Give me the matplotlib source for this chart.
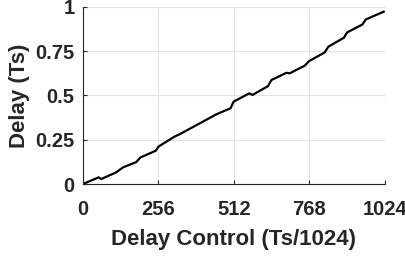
import matplotlib
matplotlib.use('Agg')
import matplotlib.pyplot as plt

control = [0, 54, 62, 113, 136, 181, 195, 247, 257, 311, 328, 453, 501, 511,
           564, 575, 628, 639, 690, 701, 752, 767, 820, 832, 885, 896, 948,
           959, 1020]
delay = [0.0, 0.038, 0.028, 0.066, 0.094, 0.124, 0.150, 0.188, 0.212, 0.268,
         0.281, 0.394, 0.428, 0.465, 0.512, 0.503, 0.553, 0.587, 0.628, 0.625,
         0.668, 0.694, 0.743, 0.775, 0.826, 0.856, 0.901, 0.929, 0.973]

x_ticks = [0, 256, 512, 768, 1024]
y_ticks = [0, 0.25, 0.5, 0.75, 1]
y_labels = ['0', '0.25', '0.5', '0.75', '1']

plt.rcParams['font.family'] = ['Liberation Sans', 'DejaVu Sans']
plt.rcParams['font.weight'] = 'bold'

fig = plt.figure(figsize=(4.06, 2.56), dpi=100)
ax = fig.add_axes([0.204, 0.281, 0.744, 0.692])

ax.plot(control, delay, color='black', linewidth=1.6)

ax.set_xlim(0, 1024)
ax.set_ylim(0, 1)
ax.set_xticks(x_ticks)
ax.set_yticks(y_ticks)
ax.set_yticklabels(y_labels)
ax.grid(True, color='#e3e3e3', linewidth=0.8)
ax.set_axisbelow(True)

for side in ['top', 'right']:
    ax.spines[side].set_visible(False)
for side in ['left', 'bottom']:
    ax.spines[side].set_color('#262626')
    ax.spines[side].set_linewidth(0.8)

ax.tick_params(direction='in', length=3, color='#262626', labelsize=14.5,
               labelcolor='#262626')
ax.tick_params(axis='x', pad=11.2)
ax.tick_params(axis='y', pad=6)
ax.set_xlabel('Delay Control (Ts/1024)', fontsize=16, fontweight='bold',
              color='#262626', labelpad=7.8)
ax.set_ylabel('Delay (Ts)', fontsize=16, fontweight='bold',
              color='#262626', labelpad=4)

fig.savefig('out.png', dpi=100)
